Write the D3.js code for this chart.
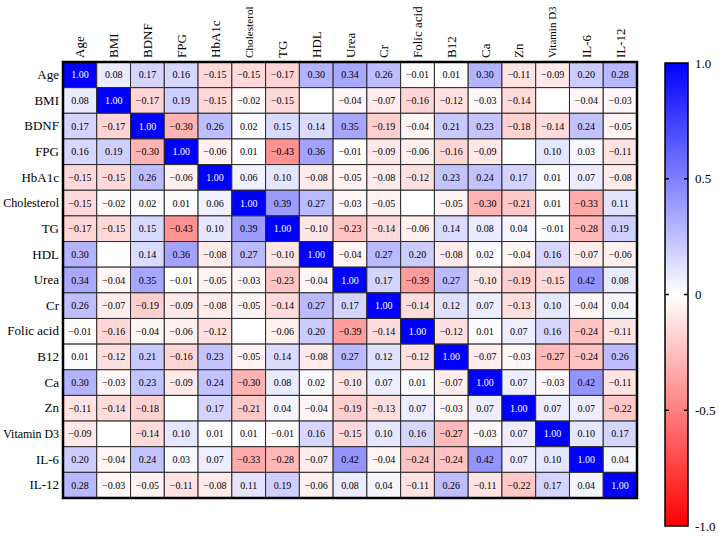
<!DOCTYPE html>
<html><head><meta charset="utf-8">
<script src="https://cdn.jsdelivr.net/npm/d3@7"></script>
<style>body{margin:0;background:#fff}svg{display:block}svg text{font-family:"Liberation Serif","DejaVu Serif","Times New Roman",serif}</style>
</head><body>
<script>
const variables = ["Age","BMI","BDNF","FPG","HbA1c","Cholesterol","TG","HDL","Urea","Cr","Folic acid","B12","Ca","Zn","Vitamin D3","IL-6","IL-12"];
const values = [
 [1.00,0.08,0.17,0.16,-0.15,-0.15,-0.17,0.30,0.34,0.26,-0.01,0.01,0.30,-0.11,-0.09,0.20,0.28],
 [0.08,1.00,-0.17,0.19,-0.15,-0.02,-0.15,null,-0.04,-0.07,-0.16,-0.12,-0.03,-0.14,null,-0.04,-0.03],
 [0.17,-0.17,1.00,-0.30,0.26,0.02,0.15,0.14,0.35,-0.19,-0.04,0.21,0.23,-0.18,-0.14,0.24,-0.05],
 [0.16,0.19,-0.30,1.00,-0.06,0.01,-0.43,0.36,-0.01,-0.09,-0.06,-0.16,-0.09,null,0.10,0.03,-0.11],
 [-0.15,-0.15,0.26,-0.06,1.00,0.06,0.10,-0.08,-0.05,-0.08,-0.12,0.23,0.24,0.17,0.01,0.07,-0.08],
 [-0.15,-0.02,0.02,0.01,0.06,1.00,0.39,0.27,-0.03,-0.05,null,-0.05,-0.30,-0.21,0.01,-0.33,0.11],
 [-0.17,-0.15,0.15,-0.43,0.10,0.39,1.00,-0.10,-0.23,-0.14,-0.06,0.14,0.08,0.04,-0.01,-0.28,0.19],
 [0.30,null,0.14,0.36,-0.08,0.27,-0.10,1.00,-0.04,0.27,0.20,-0.08,0.02,-0.04,0.16,-0.07,-0.06],
 [0.34,-0.04,0.35,-0.01,-0.05,-0.03,-0.23,-0.04,1.00,0.17,-0.39,0.27,-0.10,-0.19,-0.15,0.42,0.08],
 [0.26,-0.07,-0.19,-0.09,-0.08,-0.05,-0.14,0.27,0.17,1.00,-0.14,0.12,0.07,-0.13,0.10,-0.04,0.04],
 [-0.01,-0.16,-0.04,-0.06,-0.12,null,-0.06,0.20,-0.39,-0.14,1.00,-0.12,0.01,0.07,0.16,-0.24,-0.11],
 [0.01,-0.12,0.21,-0.16,0.23,-0.05,0.14,-0.08,0.27,0.12,-0.12,1.00,-0.07,-0.03,-0.27,-0.24,0.26],
 [0.30,-0.03,0.23,-0.09,0.24,-0.30,0.08,0.02,-0.10,0.07,0.01,-0.07,1.00,0.07,-0.03,0.42,-0.11],
 [-0.11,-0.14,-0.18,null,0.17,-0.21,0.04,-0.04,-0.19,-0.13,0.07,-0.03,0.07,1.00,0.07,0.07,-0.22],
 [-0.09,null,-0.14,0.10,0.01,0.01,-0.01,0.16,-0.15,0.10,0.16,-0.27,-0.03,0.07,1.00,0.10,0.17],
 [0.20,-0.04,0.24,0.03,0.07,-0.33,-0.28,-0.07,0.42,-0.04,-0.24,-0.24,0.42,0.07,0.10,1.00,0.04],
 [0.28,-0.03,-0.05,-0.11,-0.08,0.11,0.19,-0.06,0.08,0.04,-0.11,0.26,-0.11,-0.22,0.17,0.04,1.00]
];
const colorTicks = [1.0, 0.5, 0, -0.5, -1.0];
const colorTickLabels = ["1.0","0.5","0","-0.5","-1.0"];

const W = 719, H = 537;
const svg = d3.select("body").append("svg").attr("width", W).attr("height", H);

const gx0 = 63, gx1 = 637, gy0 = 62, gy1 = 498;
const x = d3.scaleBand().domain(variables).range([gx0, gx1]);
const y = d3.scaleBand().domain(variables).range([gy0, gy1]);
const color = d3.scaleLinear().domain([-1, 0, 1]).range(["#ff0000", "#ffffff", "#0000ff"]);

function fitText(sel, maxLen, baseSize) {
  sel.each(function () {
    const len = this.getComputedTextLength();
    if (len > maxLen) d3.select(this).attr("font-size", Math.floor(baseSize * maxLen / len * 10) / 10);
  });
}

const cells = [];
values.forEach((row, i) => row.forEach((v, j) => cells.push({r: variables[i], c: variables[j], v})));

const g = svg.append("g");
g.selectAll("rect.cell").data(cells).join("rect")
  .attr("class", "cell")
  .attr("x", d => x(d.c)).attr("y", d => y(d.r))
  .attr("width", x.bandwidth()).attr("height", y.bandwidth())
  .attr("fill", d => d.v == null ? "#ffffff" : color(d.v))
  .attr("stroke", "#2a2a2a").attr("stroke-width", 1);

g.selectAll("text.val").data(cells.filter(d => d.v != null)).join("text")
  .attr("class", "val")
  .attr("x", d => x(d.c) + x.bandwidth() / 2)
  .attr("y", d => y(d.r) + y.bandwidth() / 2)
  .attr("text-anchor", "middle").attr("dy", "0.35em")
  .attr("font-size", 10)
  .attr("fill", d => d.v >= 0.99 ? "#ffffff" : "#000000")
  .text(d => d3.format(".2f")(d.v));

// outer border
svg.append("rect").attr("x", gx0).attr("y", gy0).attr("width", gx1 - gx0).attr("height", gy1 - gy0)
  .attr("fill", "none").attr("stroke", "#000").attr("stroke-width", 2.5);

// row labels
const yAxis = svg.append("g").attr("transform", `translate(${gx0},0)`)
  .call(d3.axisLeft(y).tickSize(0).tickPadding(4));
yAxis.select(".domain").remove();
yAxis.attr("font-family", null);
yAxis.selectAll("text").attr("font-size", 13).attr("fill", "#000").call(fitText, 56, 13);

// column labels
const xAxis = svg.append("g").attr("transform", `translate(0,${gy0})`)
  .call(d3.axisTop(x).tickSize(0).tickPadding(0));
xAxis.select(".domain").remove();
xAxis.attr("font-family", null);
xAxis.selectAll("text")
  .attr("font-size", 13).attr("fill", "#000")
  .attr("transform", "rotate(-90)")
  .attr("text-anchor", "start").attr("x", 4).attr("y", 0).attr("dy", "0.35em")
  .call(fitText, 52, 13);

// color bar
const cbx = 665, cbw = 23, cby0 = 63, cby1 = 526;
const cy = d3.scaleLinear().domain([1, -1]).range([cby0, cby1]);
const defs = svg.append("defs");
const grad = defs.append("linearGradient").attr("id", "cbgrad")
  .attr("x1", 0).attr("y1", 0).attr("x2", 0).attr("y2", 1);
[1, 0, -1].forEach((v, i) => grad.append("stop").attr("offset", `${i * 50}%`).attr("stop-color", color(v)));
svg.append("rect").attr("x", cbx).attr("y", cby0).attr("width", cbw).attr("height", cby1 - cby0)
  .attr("fill", "url(#cbgrad)").attr("stroke", "#000").attr("stroke-width", 1.5);
const cb = svg.append("g");
cb.selectAll("line.tl").data(colorTicks.filter(t => Math.abs(t) < 1)).join("line")
  .attr("x1", cbx).attr("x2", cbx + 4).attr("y1", d => cy(d)).attr("y2", d => cy(d))
  .attr("stroke", "#000").attr("stroke-width", 1.5);
cb.selectAll("line.tr").data(colorTicks.filter(t => Math.abs(t) < 1)).join("line")
  .attr("x1", cbx + cbw - 4).attr("x2", cbx + cbw).attr("y1", d => cy(d)).attr("y2", d => cy(d))
  .attr("stroke", "#000").attr("stroke-width", 1.5);
cb.selectAll("text").data(colorTicks).join("text")
  .attr("x", cbx + cbw + 7).attr("y", d => cy(d)).attr("dy", "0.35em")
  .attr("font-size", 13).attr("fill", "#000")
  .text((d, i) => colorTickLabels[i]);
</script>
</body></html>
